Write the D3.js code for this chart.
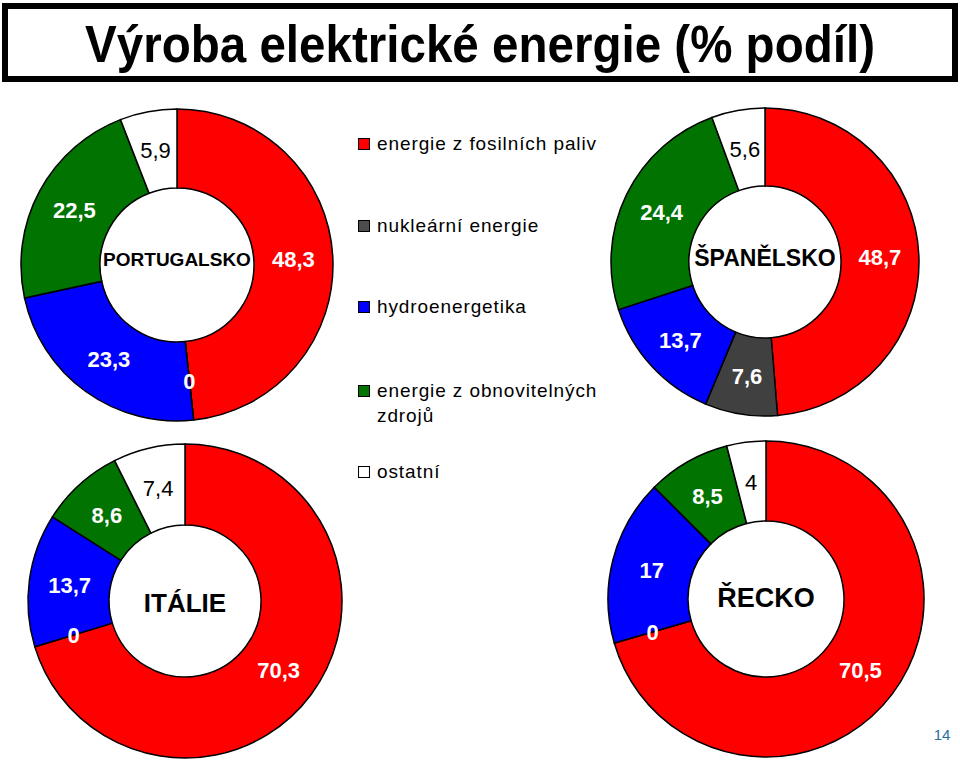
<!DOCTYPE html>
<html>
<head>
<meta charset="utf-8">
<script src="https://cdn.jsdelivr.net/npm/d3@7"></script>
<style>
  body { margin: 0; background: #fff; }
  svg { display: block; font-family: Arial, "Liberation Sans", Helvetica, sans-serif; }
</style>
</head>
<body>
<div id="chart"></div>
<script>
// categories (order = order of slices, clockwise from 12 o'clock)
const categories = ["energie z fosilních paliv", "nukleární energie", "hydroenergetika",
                    "energie z obnovitelných zdrojů", "ostatní"];
const colors = ["#ff0000", "#404040", "#0000ff", "#007300", "#ffffff"];

// values per country (% podíl)
const portugal = [48.3, 0, 23.3, 22.5, 5.9];
const spain    = [48.7, 7.6, 13.7, 24.4, 5.6];
const italy    = [70.3, 0, 13.7, 8.6, 7.4];
const greece   = [70.5, 0, 17, 8.5, 4];

const countries = ["PORTUGALSKO", "ŠPANĚLSKO", "ITÁLIE", "ŘECKO"];

const W = 960, H = 765;
const svg = d3.select("#chart").append("svg")
  .attr("width", W).attr("height", H);

// title box
svg.append("rect")
  .attr("x", 5).attr("y", 6).attr("width", 950).attr("height", 73)
  .attr("fill", "#fff").attr("stroke", "#000").attr("stroke-width", 6);
svg.append("text")
  .attr("x", 85).attr("y", 62)
  .attr("textLength", 790).attr("lengthAdjust", "spacingAndGlyphs")
  .attr("font-size", 52).attr("font-weight", "bold")
  .text("Výroba elektrické energie (% podíl)");

const pie = d3.pie().sort(null).value(d => d);

// donut layouts
const donuts = [
  {name: countries[0], data: portugal, cx: 177, cy: 265, ro: 156, ri: 77, fs: 19, ly: 266},
  {name: countries[1], data: spain,    cx: 765, cy: 262, ro: 154, ri: 76, fs: 23, ly: 266},
  {name: countries[2], data: italy,    cx: 185, cy: 601, ro: 157, ri: 76, fs: 26, ly: 612},
  {name: countries[3], data: greece,   cx: 766, cy: 599, ro: 158, ri: 78, fs: 27, ly: 607}
];

donuts.forEach(dn => {
  const arc = d3.arc().innerRadius(dn.ri).outerRadius(dn.ro);
  const g = svg.append("g").attr("transform", `translate(${dn.cx},${dn.cy})`);
  const arcs = pie(dn.data);

  g.selectAll("path.slice")
    .data(arcs)
    .enter()
    .append("path")
      .attr("class", "slice")
      .attr("d", arc)
      .attr("fill", (d, i) => colors[i])
      .attr("stroke", "#000")
      .attr("stroke-width", 1.5);

  // labels at slice centroids (skip empty nuclear slice only where it has no label... all shown)
  g.selectAll("text.val")
    .data(arcs)
    .enter()
    .append("text")
      .attr("class", "val")
      .attr("transform", d => `translate(${arc.centroid(d)})`)
      .attr("text-anchor", "middle")
      .attr("dy", "0.36em")
      .attr("font-size", 22)
      .attr("font-weight", (d, i) => i === 4 ? "normal" : "bold")
      .attr("fill", (d, i) => i === 4 ? "#000" : "#fff")
      .text(d => String(d.data).replace(".", ","));

  svg.append("text")
    .attr("x", dn.cx).attr("y", dn.ly)
    .attr("text-anchor", "middle")
    .attr("font-size", dn.fs)
    .attr("font-weight", "bold")
    .text(dn.name);
});

// legend
const legendRows = [150, 232, 313, 397, 478];
const legendLines = [["energie z fosilních paliv"], ["nukleární energie"], ["hydroenergetika"],
                     ["energie z obnovitelných", "zdrojů"], ["ostatní"]];
const lg = svg.append("g");
categories.forEach((c, i) => {
  lg.append("rect")
    .attr("x", 358.5).attr("y", legendRows[i] - 11.5)
    .attr("width", 11).attr("height", 11)
    .attr("fill", colors[i] === "#404040" ? "#4d4d4d" : colors[i])
    .attr("stroke", "#000").attr("stroke-width", 1);
  const t = lg.append("text")
    .attr("x", 377).attr("y", legendRows[i])
    .attr("font-size", 19).attr("letter-spacing", 0.9)
    .attr("fill", "#000");
  legendLines[i].forEach((ln, j) => {
    t.append("tspan").attr("x", 377).attr("dy", j === 0 ? 0 : 25).text(ln);
  });
});

// page number
svg.append("text")
  .attr("x", 942).attr("y", 740)
  .attr("text-anchor", "middle")
  .attr("font-size", 15)
  .attr("fill", "#2a6e9e")
  .text("14");
</script>
</body>
</html>
